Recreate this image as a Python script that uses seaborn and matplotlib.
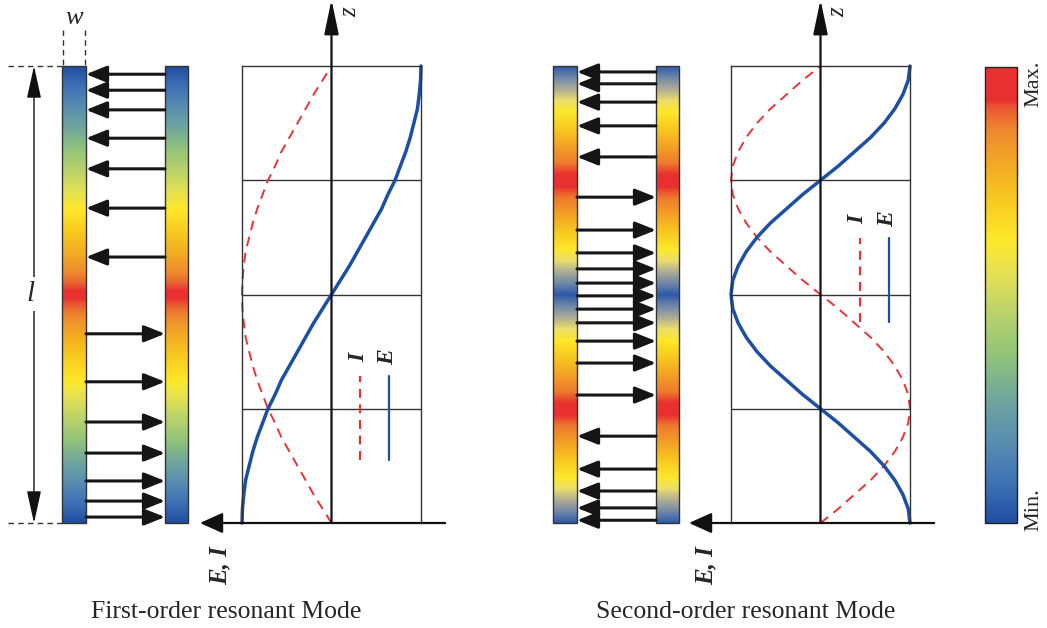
import numpy as np
import matplotlib
matplotlib.use("Agg")
import matplotlib.pyplot as plt
import seaborn as sns
from matplotlib.colors import LinearSegmentedColormap, Normalize
from matplotlib.cm import ScalarMappable
from matplotlib.patches import Rectangle

sns.set_style("white")
plt.rcParams['font.family'] = ['Liberation Serif', 'DejaVu Serif']

W, H = 1047, 628

# ---------------- data ----------------
z_pos = np.linspace(0, 1, 33)          # normalised height z / l
E_first = [1.00, 0.995, 0.98, 0.96, 0.92, 0.88, 0.83, 0.77, 0.71, 0.63, 0.56, 0.47, 0.38, 0.29, 0.20, 0.10, 0.00,
           -0.10, -0.20, -0.29, -0.38, -0.47, -0.56, -0.63, -0.71, -0.77, -0.83, -0.88, -0.92, -0.96, -0.98, -0.995, -1.00]
I_first = [0.00, 0.10, 0.20, 0.29, 0.38, 0.47, 0.56, 0.63, 0.71, 0.77, 0.83, 0.88, 0.92, 0.96, 0.98, 0.995, 1.00,
           0.995, 0.98, 0.96, 0.92, 0.88, 0.83, 0.77, 0.71, 0.63, 0.56, 0.47, 0.38, 0.29, 0.20, 0.10, 0.00]
E_second = [-1.00, -0.98, -0.92, -0.83, -0.71, -0.56, -0.38, -0.20, 0.00, 0.20, 0.38, 0.56, 0.71, 0.83, 0.92, 0.98, 1.00,
            0.98, 0.92, 0.83, 0.71, 0.56, 0.38, 0.20, 0.00, -0.20, -0.38, -0.56, -0.71, -0.83, -0.92, -0.98, -1.00]
I_second = [0.00, -0.20, -0.38, -0.56, -0.71, -0.83, -0.92, -0.98, -1.00, -0.98, -0.92, -0.83, -0.71, -0.56, -0.38, -0.20, 0.00,
            0.20, 0.38, 0.56, 0.71, 0.83, 0.92, 0.98, 1.00, 0.98, 0.92, 0.83, 0.71, 0.56, 0.38, 0.20, 0.00]

z_bar = np.linspace(0, 1, 17)
bar_first = [0.0, 0.12, 0.25, 0.38, 0.5, 0.62, 0.75, 0.88, 1.0, 0.88, 0.75, 0.62, 0.5, 0.38, 0.25, 0.12, 0.0]
bar_second = [0.0, 0.25, 0.5, 0.75, 1.0, 0.75, 0.5, 0.25, 0.0, 0.25, 0.5, 0.75, 1.0, 0.75, 0.5, 0.25, 0.0]

arrows_first_left = [0.982, 0.947, 0.904, 0.842, 0.775, 0.689, 0.582]
arrows_first_right = [0.414, 0.309, 0.221, 0.153, 0.092, 0.048, 0.013]
arrows_second_left = [0.987, 0.961, 0.921, 0.869, 0.801, 0.190, 0.118, 0.070, 0.033, 0.006]
arrows_second_right = [0.713, 0.641, 0.591, 0.556, 0.525, 0.497, 0.468, 0.438, 0.398, 0.350, 0.280]

titles = ["First-order resonant Mode", "Second-order resonant Mode"]
axis_label = "E, I"
cbar_labels = ["Max.", "Min."]

BLUE = '#1d4fa2'
RED = '#e8333b'
EDGE = '#333333'

cmap_main = LinearSegmentedColormap.from_list('field', [
    (0.00, '#1f4e9e'), (0.08, '#3d6fb5'), (0.18, '#5a8fb0'), (0.27, '#70a69d'),
    (0.37, '#92c47a'), (0.47, '#bfd468'), (0.55, '#e6e152'), (0.62, '#fde82a'),
    (0.70, '#f8cc20'), (0.78, '#f3ad23'), (0.86, '#ee8a2e'), (0.91, '#ea5a32'),
    (0.93, '#e8302f'), (1.00, '#e8302f')])
cmap_first = LinearSegmentedColormap.from_list('field1', [
    (0.00, '#1f4e9e'), (0.08, '#3d6fb5'), (0.18, '#5a8fb0'), (0.27, '#70a69d'),
    (0.37, '#92c47a'), (0.47, '#bfd468'), (0.55, '#e6e152'), (0.62, '#fde82a'),
    (0.72, '#f8cc20'), (0.82, '#f3ad23'), (0.91, '#ee8a2e'), (0.96, '#ea5a32'),
    (0.985, '#e8302f'), (1.00, '#e8302f')])
cmap_second = LinearSegmentedColormap.from_list('field2', [
    (0.00, '#2d5aa8'), (0.10, '#7088a8'), (0.20, '#aeac96'), (0.30, '#ebde6c'),
    (0.40, '#fde82a'), (0.55, '#f8c820'), (0.70, '#f3a224'), (0.85, '#ee7a2e'),
    (0.95, '#e8302f'), (1.00, '#e8302f')])

fig = plt.figure(figsize=(W / 100, H / 100), dpi=100)


def rect(x0, y0, x1, y1):
    return [x0 / W, 1 - y1 / H, (x1 - x0) / W, (y1 - y0) / H]


overlay = fig.add_axes([0, 0, 1, 1], zorder=0)
overlay.set_xlim(0, W)
overlay.set_ylim(H, 0)
overlay.axis('off')


def draw_bars(x0, vals, cmap, left_arrows, right_arrows):
    ax = fig.add_axes(rect(x0, 66, x0 + 126, 523), zorder=2)
    half = 0.5 / (len(vals) - 1)
    for bx0, bx1 in [(0, 24), (103, 126)]:
        ax.imshow(np.array(vals)[:, None], origin='lower', extent=(bx0, bx1, -half, 1 + half),
                  cmap=cmap, norm=Normalize(0, 1), aspect='auto', interpolation='bilinear')
        ax.add_patch(Rectangle((bx0, 0), bx1 - bx0, 1, fill=False, ec=EDGE, lw=1.0, clip_on=False))
    ax.set_xlim(0, 126)
    ax.set_ylim(0, 1)
    ax.axis('off')
    style = '-|>,head_length=1.05,head_width=0.42'
    for z in left_arrows:
        ax.annotate('', xy=(24, z), xytext=(103, z),
                    arrowprops=dict(arrowstyle=style, lw=2.2, color='#151515',
                                    shrinkA=0, shrinkB=0, mutation_scale=12))
    for z in right_arrows:
        ax.annotate('', xy=(103, z), xytext=(24, z),
                    arrowprops=dict(arrowstyle=style, lw=2.2, color='#151515',
                                    shrinkA=0, shrinkB=0, mutation_scale=12))


def draw_plot(x0, E, I, leg_x, leg_z, lab_x, lab_z):
    ax = fig.add_axes(rect(x0, 66, x0 + 179, 523), zorder=3)
    ax.patch.set_alpha(0)
    sns.lineplot(x=I, y=z_pos, sort=False, estimator=None, ax=ax, color=RED, lw=1.4,
                 linestyle=(0, (5, 3.5)), clip_on=False)
    sns.lineplot(x=E, y=z_pos, sort=False, estimator=None, ax=ax, color=BLUE, lw=2.5,
                 clip_on=False)
    ax.set_xlim(1, -1)
    ax.set_ylim(0, 1)
    ax.set_xticks([])
    ax.set_yticks([])
    ax.set_xlabel('')
    ax.set_ylabel('')
    for side in ['left', 'right', 'top']:
        ax.spines[side].set(color=EDGE, lw=1.0)
    ax.spines['bottom'].set_visible(False)
    for zz in [0.25, 0.5, 0.75]:
        ax.axhline(zz, color=EDGE, lw=1.0, zorder=0)
    # axes with arrows
    ax.annotate('', xy=(0, 1.145), xytext=(0, 0), annotation_clip=False,
                arrowprops=dict(arrowstyle='-|>,head_length=1.05,head_width=0.22', lw=1.6,
                                color='#111111', shrinkA=0, shrinkB=0, mutation_scale=20))
    ax.annotate('', xy=(1.47, 0), xytext=(-1.27, 0), annotation_clip=False,
                arrowprops=dict(arrowstyle='-|>,head_length=1.0,head_width=0.45', lw=1.6,
                                color='#111111', shrinkA=0, shrinkB=0, mutation_scale=14))
    # legend
    ax.plot([leg_x[0]] * 2, leg_z, color=RED, lw=1.6, ls=(0, (4, 3)))
    ax.plot([leg_x[1]] * 2, leg_z, color=BLUE, lw=1.6)
    ax.text(lab_x[0], lab_z, 'I', rotation=90, ha='center', va='center', fontsize=17,
            fontweight='bold', fontstyle='italic')
    ax.text(lab_x[1], lab_z, 'E', rotation=90, ha='center', va='center', fontsize=17,
            fontweight='bold', fontstyle='italic')


draw_bars(62, bar_first, cmap_first, arrows_first_left, arrows_first_right)
draw_bars(553, bar_second, cmap_second, arrows_second_left, arrows_second_right)
draw_plot(242, E_first, I_first, (-0.318, -0.642), (0.138, 0.322), (-0.307, -0.631), 0.362)
draw_plot(731, E_second, I_second, (-0.441, -0.765), (0.44, 0.624), (-0.418, -0.754), 0.664)

# colour bar
cax = fig.add_axes(rect(985, 67, 1017, 523), zorder=2)
cb = fig.colorbar(ScalarMappable(norm=Normalize(0, 1), cmap=cmap_main), cax=cax)
cb.set_ticks([])
cb.outline.set_linewidth(1.0)
cb.outline.set_edgecolor('#222222')
overlay.text(1034, 84, cbar_labels[0], rotation=90, ha='center', va='center', fontsize=16)
overlay.text(1034, 510, cbar_labels[1], rotation=90, ha='center', va='center', fontsize=16)

# dimension marks
dash = (0, (4, 3))
overlay.plot([8, 62], [66, 66], color=EDGE, lw=1.0, ls=dash)
overlay.plot([8, 62], [523, 523], color=EDGE, lw=1.0, ls=dash)
overlay.plot([63, 63], [30, 66], color=EDGE, lw=1.0, ls=dash)
overlay.plot([85, 85], [30, 66], color=EDGE, lw=1.0, ls=dash)
overlay.annotate('', xy=(34, 66), xytext=(34, 523),
                 arrowprops=dict(arrowstyle='<|-|>,head_length=1.0,head_width=0.22', lw=1.0,
                                 color='#111111', shrinkA=0, shrinkB=0, mutation_scale=20))
overlay.text(74, 18, 'w', ha='center', va='center', fontsize=19, fontstyle='italic')
overlay.text(31, 294, 'l', ha='center', va='center', fontsize=21, fontstyle='italic',
             bbox=dict(boxstyle='square,pad=0.15', fc='white', ec='none'))

# axis labels and titles
for zx, ex, tx, title in [(350, 220, 226, titles[0]), (838, 706, 746, titles[1])]:
    overlay.text(zx, 12, 'z', rotation=90, ha='center', va='center', fontsize=18, fontstyle='italic')
    overlay.text(ex, 566, axis_label, rotation=90, ha='center', va='center', fontsize=18,
                 fontweight='bold', fontstyle='italic')
    overlay.text(tx, 612, title, ha='center', va='center', fontsize=18.5)

fig.savefig('out.png', dpi=100)
